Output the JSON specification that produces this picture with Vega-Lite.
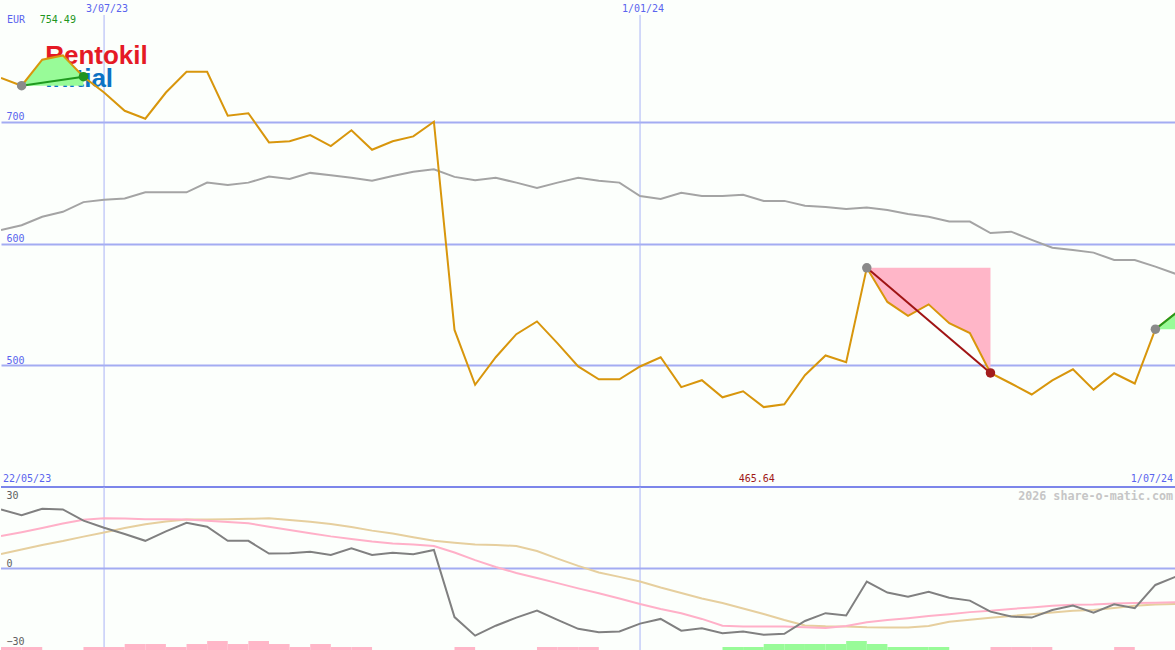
{
  "$schema": "https://vega.github.io/schema/vega-lite/v6.json",
  "padding": 0,
  "background": "#fcfffc",
  "spacing": 0,
  "bounds": "flush",
  "config": {"view": {"stroke": null}},
  "datasets": {
    "prices": [
      {"d":"2023-05-29","p":736,"ma":611},
      {"d":"2023-06-05","p":729.6,"ma":615},
      {"d":"2023-06-12","p":751,"ma":622},
      {"d":"2023-06-19","p":754.49,"ma":626},
      {"d":"2023-06-26","p":737,"ma":634},
      {"d":"2023-07-03","p":724,"ma":636},
      {"d":"2023-07-10","p":709,"ma":637},
      {"d":"2023-07-17","p":702.5,"ma":642},
      {"d":"2023-07-24","p":724,"ma":642},
      {"d":"2023-07-31","p":741,"ma":642},
      {"d":"2023-08-07","p":741,"ma":650},
      {"d":"2023-08-14","p":705,"ma":648},
      {"d":"2023-08-21","p":707,"ma":650},
      {"d":"2023-08-28","p":683,"ma":655},
      {"d":"2023-09-04","p":684,"ma":653},
      {"d":"2023-09-11","p":689,"ma":658},
      {"d":"2023-09-18","p":680,"ma":656},
      {"d":"2023-09-25","p":693,"ma":654},
      {"d":"2023-10-02","p":677,"ma":651.5},
      {"d":"2023-10-09","p":684,"ma":655.5},
      {"d":"2023-10-16","p":688,"ma":659},
      {"d":"2023-10-23","p":700,"ma":661},
      {"d":"2023-10-30","p":529,"ma":654.7},
      {"d":"2023-11-06","p":484,"ma":652},
      {"d":"2023-11-13","p":506.6,"ma":654},
      {"d":"2023-11-20","p":525.5,"ma":650},
      {"d":"2023-11-27","p":536,"ma":645.7},
      {"d":"2023-12-04","p":518,"ma":650},
      {"d":"2023-12-11","p":499,"ma":654},
      {"d":"2023-12-18","p":488.5,"ma":651.5},
      {"d":"2023-12-25","p":488.5,"ma":650},
      {"d":"2024-01-01","p":499,"ma":639},
      {"d":"2024-01-08","p":506.6,"ma":636.6},
      {"d":"2024-01-15","p":482,"ma":641.6},
      {"d":"2024-01-22","p":487.7,"ma":639},
      {"d":"2024-01-29","p":473.7,"ma":639},
      {"d":"2024-02-05","p":478.6,"ma":640},
      {"d":"2024-02-12","p":465.64,"ma":635},
      {"d":"2024-02-19","p":468,"ma":635},
      {"d":"2024-02-26","p":491.8,"ma":631},
      {"d":"2024-03-04","p":508,"ma":630},
      {"d":"2024-03-11","p":502.5,"ma":628.4},
      {"d":"2024-03-18","p":580,"ma":629.5},
      {"d":"2024-03-25","p":552,"ma":627.6},
      {"d":"2024-04-01","p":540.6,"ma":624.3},
      {"d":"2024-04-08","p":550,"ma":622},
      {"d":"2024-04-15","p":534.6,"ma":618},
      {"d":"2024-04-22","p":526.4,"ma":618},
      {"d":"2024-04-29","p":493.7,"ma":608.6},
      {"d":"2024-05-06","p":485,"ma":609.7},
      {"d":"2024-05-13","p":476,"ma":603},
      {"d":"2024-05-20","p":487.6,"ma":596.5},
      {"d":"2024-05-27","p":496.7,"ma":594.7},
      {"d":"2024-06-03","p":480,"ma":592.5},
      {"d":"2024-06-10","p":493.4,"ma":586.4},
      {"d":"2024-06-17","p":485,"ma":586.4},
      {"d":"2024-06-24","p":529.6,"ma":581},
      {"d":"2024-07-01","p":543,"ma":575}
    ],
    "osc": [
      {"d":"2023-05-29","o":22.6,"s1":12.4,"s2":5.5},
      {"d":"2023-06-05","o":20.4,"s1":13.9,"s2":7.3},
      {"d":"2023-06-12","o":22.9,"s1":15.5,"s2":9.0},
      {"d":"2023-06-19","o":22.6,"s1":17.2,"s2":10.5},
      {"d":"2023-06-26","o":18.3,"s1":18.7,"s2":12.2},
      {"d":"2023-07-03","o":15.6,"s1":19.2,"s2":13.8},
      {"d":"2023-07-10","o":13.2,"s1":19.1,"s2":15.5},
      {"d":"2023-07-17","o":10.6,"s1":18.9,"s2":16.9},
      {"d":"2023-07-24","o":14.2,"s1":18.9,"s2":18.0},
      {"d":"2023-07-31","o":17.5,"s1":18.8,"s2":18.8},
      {"d":"2023-08-07","o":16.0,"s1":18.3,"s2":18.8},
      {"d":"2023-08-14","o":10.6,"s1":17.8,"s2":18.9},
      {"d":"2023-08-21","o":10.6,"s1":17.3,"s2":19.0},
      {"d":"2023-08-28","o":5.7,"s1":16.0,"s2":19.2},
      {"d":"2023-09-04","o":5.8,"s1":14.7,"s2":18.6},
      {"d":"2023-09-11","o":6.4,"s1":13.5,"s2":17.9},
      {"d":"2023-09-18","o":5.2,"s1":12.3,"s2":17.0},
      {"d":"2023-09-25","o":7.7,"s1":11.3,"s2":15.9},
      {"d":"2023-10-02","o":5.2,"s1":10.3,"s2":14.5},
      {"d":"2023-10-09","o":6.0,"s1":9.6,"s2":13.4},
      {"d":"2023-10-16","o":5.5,"s1":9.2,"s2":12.0},
      {"d":"2023-10-23","o":7.1,"s1":8.6,"s2":10.6},
      {"d":"2023-10-30","o":-18.6,"s1":6.1,"s2":9.9},
      {"d":"2023-11-06","o":-25.7,"s1":3.2,"s2":9.2},
      {"d":"2023-11-13","o":-21.9,"s1":0.6,"s2":9.0},
      {"d":"2023-11-20","o":-18.8,"s1":-1.7,"s2":8.6},
      {"d":"2023-11-27","o":-16.1,"s1":-3.6,"s2":6.7},
      {"d":"2023-12-04","o":-19.7,"s1":-5.6,"s2":3.8},
      {"d":"2023-12-11","o":-23.1,"s1":-7.6,"s2":1.0},
      {"d":"2023-12-18","o":-24.4,"s1":-9.5,"s2":-1.5},
      {"d":"2023-12-25","o":-24.1,"s1":-11.5,"s2":-3.2},
      {"d":"2024-01-01","o":-21.1,"s1":-13.6,"s2":-5.0},
      {"d":"2024-01-08","o":-19.3,"s1":-15.5,"s2":-7.3},
      {"d":"2024-01-15","o":-23.8,"s1":-17.1,"s2":-9.4},
      {"d":"2024-01-22","o":-22.9,"s1":-19.3,"s2":-11.5},
      {"d":"2024-01-29","o":-24.8,"s1":-21.9,"s2":-13.2},
      {"d":"2024-02-05","o":-24.1,"s1":-22.2,"s2":-15.3},
      {"d":"2024-02-12","o":-25.4,"s1":-22.2,"s2":-17.4},
      {"d":"2024-02-19","o":-25.0,"s1":-22.2,"s2":-19.7},
      {"d":"2024-02-26","o":-20.1,"s1":-22.5,"s2":-21.8},
      {"d":"2024-03-04","o":-17.1,"s1":-22.8,"s2":-22.1},
      {"d":"2024-03-11","o":-18.0,"s1":-22.0,"s2":-22.2},
      {"d":"2024-03-18","o":-5.0,"s1":-20.6,"s2":-22.5},
      {"d":"2024-03-25","o":-9.2,"s1":-19.7,"s2":-22.6},
      {"d":"2024-04-01","o":-10.8,"s1":-19.0,"s2":-22.6},
      {"d":"2024-04-08","o":-8.9,"s1":-18.2,"s2":-22.0},
      {"d":"2024-04-15","o":-11.2,"s1":-17.5,"s2":-20.4},
      {"d":"2024-04-22","o":-12.3,"s1":-16.7,"s2":-19.6},
      {"d":"2024-04-29","o":-16.5,"s1":-16.2,"s2":-18.9},
      {"d":"2024-05-06","o":-18.4,"s1":-15.5,"s2":-18.2},
      {"d":"2024-05-13","o":-18.8,"s1":-14.9,"s2":-17.5},
      {"d":"2024-05-20","o":-15.9,"s1":-14.3,"s2":-16.8},
      {"d":"2024-05-27","o":-14.2,"s1":-13.9,"s2":-16.2},
      {"d":"2024-06-03","o":-16.9,"s1":-13.8,"s2":-15.9},
      {"d":"2024-06-10","o":-13.7,"s1":-13.4,"s2":-15.1},
      {"d":"2024-06-17","o":-15.2,"s1":-13.2,"s2":-14.3},
      {"d":"2024-06-24","o":-6.3,"s1":-13.1,"s2":-13.8},
      {"d":"2024-07-01","o":-3.1,"s1":-12.9,"s2":-13.6}
    ],
    "hist": [
      {"d":"2023-05-29","d2":"2023-06-05","h":1,"k":"neg"},
      {"d":"2023-06-05","d2":"2023-06-12","h":1,"k":"neg"},
      {"d":"2023-06-26","d2":"2023-07-03","h":1,"k":"neg"},
      {"d":"2023-07-03","d2":"2023-07-10","h":1,"k":"neg"},
      {"d":"2023-07-10","d2":"2023-07-17","h":2,"k":"neg"},
      {"d":"2023-07-17","d2":"2023-07-24","h":2,"k":"neg"},
      {"d":"2023-07-24","d2":"2023-07-31","h":1,"k":"neg"},
      {"d":"2023-07-31","d2":"2023-08-07","h":2,"k":"neg"},
      {"d":"2023-08-07","d2":"2023-08-14","h":3,"k":"neg"},
      {"d":"2023-08-14","d2":"2023-08-21","h":2,"k":"neg"},
      {"d":"2023-08-21","d2":"2023-08-28","h":3,"k":"neg"},
      {"d":"2023-08-28","d2":"2023-09-04","h":2,"k":"neg"},
      {"d":"2023-09-04","d2":"2023-09-11","h":1,"k":"neg"},
      {"d":"2023-09-11","d2":"2023-09-18","h":2,"k":"neg"},
      {"d":"2023-09-18","d2":"2023-09-25","h":1,"k":"neg"},
      {"d":"2023-09-25","d2":"2023-10-02","h":1,"k":"neg"},
      {"d":"2023-10-30","d2":"2023-11-06","h":1,"k":"neg"},
      {"d":"2023-11-27","d2":"2023-12-04","h":1,"k":"neg"},
      {"d":"2023-12-04","d2":"2023-12-11","h":1,"k":"neg"},
      {"d":"2023-12-11","d2":"2023-12-18","h":1,"k":"neg"},
      {"d":"2024-01-29","d2":"2024-02-05","h":1,"k":"pos"},
      {"d":"2024-02-05","d2":"2024-02-12","h":1,"k":"pos"},
      {"d":"2024-02-12","d2":"2024-02-19","h":2,"k":"pos"},
      {"d":"2024-02-19","d2":"2024-02-26","h":2,"k":"pos"},
      {"d":"2024-02-26","d2":"2024-03-04","h":2,"k":"pos"},
      {"d":"2024-03-04","d2":"2024-03-11","h":2,"k":"pos"},
      {"d":"2024-03-11","d2":"2024-03-18","h":3,"k":"pos"},
      {"d":"2024-03-18","d2":"2024-03-25","h":2,"k":"pos"},
      {"d":"2024-03-25","d2":"2024-04-01","h":1,"k":"pos"},
      {"d":"2024-04-01","d2":"2024-04-08","h":1,"k":"pos"},
      {"d":"2024-04-08","d2":"2024-04-15","h":1,"k":"pos"},
      {"d":"2024-04-29","d2":"2024-05-06","h":1,"k":"neg"},
      {"d":"2024-05-06","d2":"2024-05-13","h":1,"k":"neg"},
      {"d":"2024-05-13","d2":"2024-05-20","h":1,"k":"neg"},
      {"d":"2024-06-10","d2":"2024-06-17","h":1,"k":"neg"}
    ],
    "fills": [
      {"t":"A","k":"win","d":"2023-06-05","p":729.6,"b":729.6},
      {"t":"A","k":"win","d":"2023-06-12","p":751,"b":729.6},
      {"t":"A","k":"win","d":"2023-06-19","p":754.49,"b":729.6},
      {"t":"A","k":"win","d":"2023-06-26","p":737,"b":729.6},
      {"t":"B","k":"loss","d":"2024-03-18","p":580,"b":580},
      {"t":"B","k":"loss","d":"2024-03-25","p":552,"b":580},
      {"t":"B","k":"loss","d":"2024-04-01","p":540.6,"b":580},
      {"t":"B","k":"loss","d":"2024-04-08","p":550,"b":580},
      {"t":"B","k":"loss","d":"2024-04-15","p":534.6,"b":580},
      {"t":"B","k":"loss","d":"2024-04-22","p":526.4,"b":580},
      {"t":"B","k":"loss","d":"2024-04-29","p":493.7,"b":580},
      {"t":"C","k":"win","d":"2024-06-24","p":529.6,"b":529.6},
      {"t":"C","k":"win","d":"2024-07-01","p":543,"b":529.6}
    ],
    "trades": [
      {"d":"2023-06-05","p":729.6,"d2":"2023-06-26","p2":737,"k":"win"},
      {"d":"2024-03-18","p":580,"d2":"2024-04-29","p2":493.7,"k":"loss"},
      {"d":"2024-06-24","p":529.6,"d2":"2024-07-01","p2":543,"k":"win"}
    ],
    "dots": [
      {"d":"2023-06-05","p":729.6,"k":"entry"},
      {"d":"2024-03-18","p":580,"k":"entry"},
      {"d":"2024-06-24","p":529.6,"k":"entry"},
      {"d":"2023-06-26","p":737,"k":"win"},
      {"d":"2024-04-29","p":493.7,"k":"loss"}
    ],
    "dlines": [
      {"d":"2023-07-03","label":"3/07/23"},
      {"d":"2024-01-01","label":"1/01/24"}
    ],
    "logo": [
      {"d":"2023-06-13","v":747.4,"label":"Rentokil"},
      {"d":"2023-06-13","v":728.5,"label":"Initial"}
    ]
  },
  "vconcat": [
    {
      "width": 1175,
      "height": 487,
      "resolve": {"scale": {"color": "independent"}},
      "layer": [
        {
          "data": {"name": "dlines"},
          "mark": {"type": "rule", "color": "#aab4f6", "strokeWidth": 1},
          "encoding": {
            "x": {"field": "d", "type": "temporal", "axis": null, "scale": {"domain": [{"year": 2023, "month": "may", "date": 29, "utc": true}, {"year": 2024, "month": "jul", "date": 1, "utc": true}], "nice": false}},
            "y": {"datum": 787.7, "type": "quantitative", "scale": {"domain": [400, 800], "nice": false, "zero": false},
              "axis": {"values": [500, 600, 700], "grid": true, "gridColor": "#a3acf2", "gridWidth": 2, "domain": false, "ticks": false, "tickSize": 0, "title": null, "labelAlign": "left", "labelBaseline": "bottom", "labelPadding": -5, "labelFont": "DejaVu Sans Mono", "labelFontSize": 10, "labelColor": "#5a64ee"}},
            "y2": {"datum": 400}
          }
        },
        {
          "data": {"name": "logo"},
          "mark": {"type": "text", "font": "Liberation Sans", "fontWeight": "bold", "fontSize": 26, "align": "left", "baseline": "alphabetic"},
          "encoding": {
            "x": {"field": "d", "type": "temporal", "axis": null},
            "y": {"field": "v", "type": "quantitative"},
            "text": {"field": "label"},
            "color": {"field": "label", "type": "nominal", "scale": {"domain": ["Rentokil", "Initial"], "range": ["#e51a25", "#0b72c4"]}, "legend": null}
          }
        },
        {
          "data": {"name": "fills"},
          "mark": {"type": "area", "opacity": 1, "clip": true},
          "encoding": {
            "x": {"field": "d", "type": "temporal", "axis": null},
            "y": {"field": "p", "type": "quantitative"},
            "y2": {"field": "b"},
            "detail": {"field": "t"},
            "color": {"field": "k", "type": "nominal", "scale": {"domain": ["win", "loss"], "range": ["#98fb98", "#ffb6c8"]}, "legend": null}
          }
        },
        {
          "data": {"name": "prices"},
          "mark": {"type": "line", "color": "#a4a4a4", "strokeWidth": 2, "clip": true},
          "encoding": {
            "x": {"field": "d", "type": "temporal", "axis": null},
            "y": {"field": "ma", "type": "quantitative"}
          }
        },
        {
          "data": {"name": "prices"},
          "mark": {"type": "line", "color": "#d8960c", "strokeWidth": 2, "clip": true},
          "encoding": {
            "x": {"field": "d", "type": "temporal", "axis": null},
            "y": {"field": "p", "type": "quantitative"}
          }
        },
        {
          "data": {"name": "trades"},
          "mark": {"type": "rule", "strokeWidth": 2, "clip": true},
          "encoding": {
            "x": {"field": "d", "type": "temporal", "axis": null},
            "x2": {"field": "d2"},
            "y": {"field": "p", "type": "quantitative"},
            "y2": {"field": "p2"},
            "color": {"field": "k", "type": "nominal", "scale": {"domain": ["win", "loss"], "range": ["#1f9a1f", "#a01414"]}, "legend": null}
          }
        },
        {
          "data": {"name": "dots"},
          "mark": {"type": "point", "filled": true, "shape": "circle", "size": 90, "opacity": 1},
          "encoding": {
            "x": {"field": "d", "type": "temporal", "axis": null},
            "y": {"field": "p", "type": "quantitative"},
            "color": {"field": "k", "type": "nominal", "scale": {"domain": ["entry", "win", "loss"], "range": ["#8a8a8a", "#1f941f", "#a31d1d"]}, "legend": null}
          }
        },
        {
          "data": {"name": "dlines"},
          "mark": {"type": "text", "font": "DejaVu Sans Mono", "fontSize": 10, "align": "center", "baseline": "middle", "dx": 3, "color": "#5a64ee"},
          "encoding": {
            "x": {"field": "d", "type": "temporal", "axis": null},
            "y": {"datum": 792.6, "type": "quantitative"},
            "text": {"field": "label"}
          }
        },
        {
          "data": {"values": [{"d": "2023-05-31", "label": "EUR"}]},
          "mark": {"type": "text", "font": "DejaVu Sans Mono", "fontSize": 10, "align": "left", "baseline": "middle", "color": "#5a64ee"},
          "encoding": {
            "x": {"field": "d", "type": "temporal", "axis": null},
            "y": {"datum": 783.6, "type": "quantitative"},
            "text": {"field": "label"}
          }
        },
        {
          "data": {"values": [{"d": "2023-06-19", "label": "754.49"}]},
          "mark": {"type": "text", "font": "DejaVu Sans Mono", "fontSize": 10, "align": "center", "baseline": "middle", "dx": -5, "color": "#1e961e"},
          "encoding": {
            "x": {"field": "d", "type": "temporal", "axis": null},
            "y": {"datum": 783.6, "type": "quantitative"},
            "text": {"field": "label"}
          }
        },
        {
          "data": {"values": [{"d": "2024-02-12", "label": "465.64"}]},
          "mark": {"type": "text", "font": "DejaVu Sans Mono", "fontSize": 10, "align": "center", "baseline": "middle", "dx": -7, "color": "#a01818"},
          "encoding": {
            "x": {"field": "d", "type": "temporal", "axis": null},
            "y": {"datum": 406.6, "type": "quantitative"},
            "text": {"field": "label"}
          }
        },
        {
          "data": {"values": [{"d": "2023-05-29", "label": "22/05/23"}]},
          "mark": {"type": "text", "font": "DejaVu Sans Mono", "fontSize": 10, "align": "left", "baseline": "middle", "dx": 2, "color": "#5a64ee"},
          "encoding": {
            "x": {"field": "d", "type": "temporal", "axis": null},
            "y": {"datum": 406.6, "type": "quantitative"},
            "text": {"field": "label"}
          }
        },
        {
          "data": {"values": [{"d": "2024-07-01", "label": "1/07/24"}]},
          "mark": {"type": "text", "font": "DejaVu Sans Mono", "fontSize": 10, "align": "right", "baseline": "middle", "dx": -3, "color": "#5a64ee"},
          "encoding": {
            "x": {"field": "d", "type": "temporal", "axis": null},
            "y": {"datum": 406.6, "type": "quantitative"},
            "text": {"field": "label"}
          }
        },
        {
          "data": {"values": [{}]},
          "mark": {"type": "rule", "color": "#7c86ea", "strokeWidth": 2},
          "encoding": {
            "y": {"datum": 400, "type": "quantitative"}
          }
        }
      ]
    },
    {
      "width": 1175,
      "height": 163,
      "resolve": {"scale": {"y": "independent", "color": "independent"}},
      "layer": [
        {
          "data": {"name": "dlines"},
          "mark": {"type": "rule", "color": "#aab4f6", "strokeWidth": 1},
          "encoding": {
            "x": {"field": "d", "type": "temporal", "axis": null, "scale": {"domain": [{"year": 2023, "month": "may", "date": 29, "utc": true}, {"year": 2024, "month": "jul", "date": 1, "utc": true}], "nice": false}}
          }
        },
        {
          "data": {"name": "hist"},
          "mark": {"type": "rect"},
          "encoding": {
            "x": {"field": "d", "type": "temporal", "axis": null},
            "x2": {"field": "d2"},
            "y": {"field": "h", "type": "quantitative", "scale": {"domain": [0, 54.33], "nice": false, "zero": true}, "axis": null},
            "y2": {"datum": 0},
            "color": {"field": "k", "type": "nominal", "scale": {"domain": ["neg", "pos"], "range": ["#ffb6c8", "#98fb98"]}, "legend": null}
          }
        },
        {
          "layer": [
            {
              "data": {"values": [{}]},
              "mark": {"type": "rule", "color": "#a3acf2", "strokeWidth": 2},
              "encoding": {
                "y": {"datum": 0, "type": "quantitative", "scale": {"domain": [-31.2, 31.2], "nice": false, "zero": false},
                  "axis": {"values": [30, 0, -30], "grid": false, "domain": false, "ticks": false, "tickSize": 0, "title": null, "labelAlign": "left", "labelBaseline": {"condition": {"test": "datum.value > 0", "value": "top"}, "value": "bottom"}, "labelPadding": -5, "labelFont": "DejaVu Sans Mono", "labelFontSize": 10, "labelColor": "#606060"}}
              }
            },
            {
              "data": {"name": "osc"},
              "mark": {"type": "line", "color": "#e6cf9e", "strokeWidth": 2, "clip": true},
              "encoding": {
                "x": {"field": "d", "type": "temporal", "axis": null},
                "y": {"field": "s2", "type": "quantitative"}
              }
            },
            {
              "data": {"name": "osc"},
              "mark": {"type": "line", "color": "#ffb0c8", "strokeWidth": 2, "clip": true},
              "encoding": {
                "x": {"field": "d", "type": "temporal", "axis": null},
                "y": {"field": "s1", "type": "quantitative"}
              }
            },
            {
              "data": {"name": "osc"},
              "mark": {"type": "line", "color": "#808080", "strokeWidth": 2, "clip": true},
              "encoding": {
                "x": {"field": "d", "type": "temporal", "axis": null},
                "y": {"field": "o", "type": "quantitative"}
              }
            },
            {
              "data": {"values": [{"d": "2024-07-01", "label": "2026 share-o-matic.com"}]},
              "mark": {"type": "text", "font": "DejaVu Sans Mono", "fontSize": 11.7, "fontWeight": "bold", "align": "right", "baseline": "middle", "dx": -3, "color": "#c6c6c6"},
              "encoding": {
                "x": {"field": "d", "type": "temporal", "axis": null},
                "y": {"datum": 27.7, "type": "quantitative"},
                "text": {"field": "label"}
              }
            }
          ]
        }
      ]
    }
  ]
}
